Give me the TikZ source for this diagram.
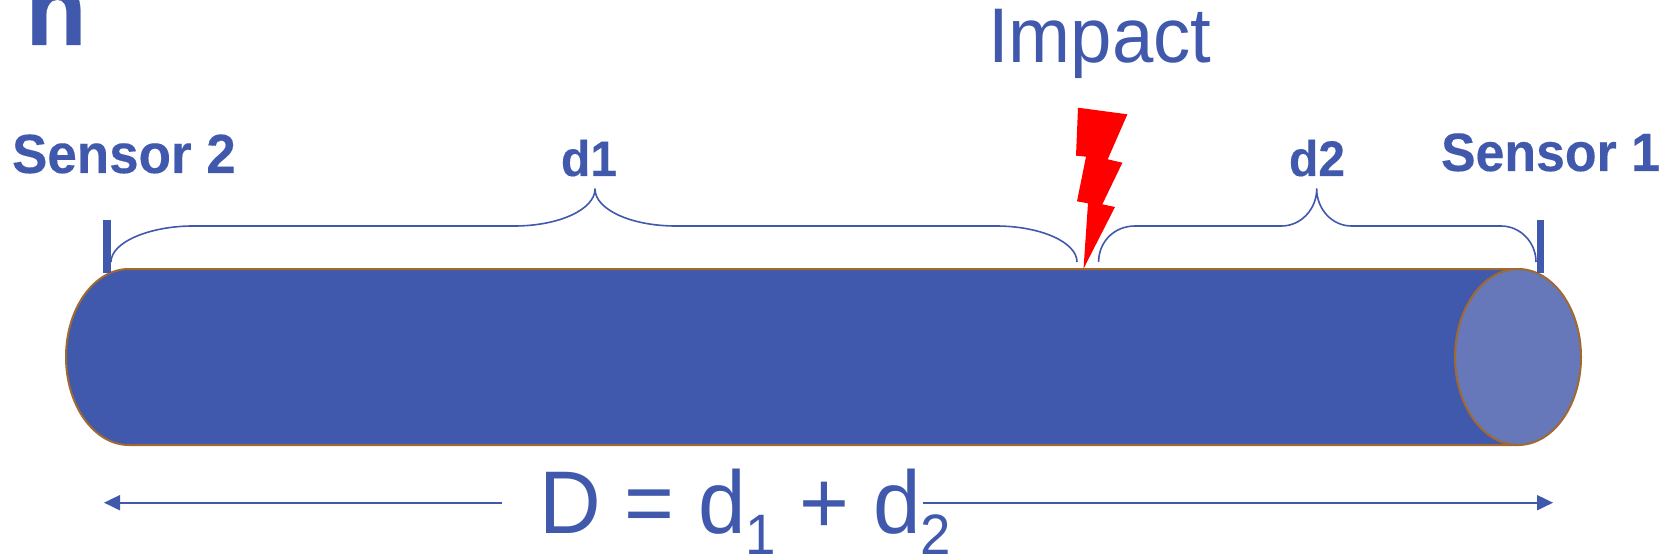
\documentclass[tikz,border=0pt]{standalone}
\usepackage{fontspec}
\setmainfont[FakeStretch=0.96,BoldFeatures={FakeBold=0.25}]{Liberation Sans}
\usetikzlibrary{arrows.meta}
\definecolor{rodblue}{HTML}{4159AC}
\definecolor{rodend}{HTML}{6678BA}
\definecolor{rodedge}{HTML}{A0692F}
\newcommand{\fsz}[1]{\fontsize{#1}{#1}\selectfont}
\newcommand{\fsubs}[1]{\lower21pt\hbox{\fsz{57}#1}}
\tikzset{
  lbl/.style={anchor=base west,inner sep=0pt,outer sep=0pt,text=rodblue},
  boldlbl/.style={lbl,font=\bfseries\fsz{54}},
  smalllbl/.style={lbl,font=\bfseries\fsz{50}},
  rod/.style={fill=rodblue,draw=rodedge,line width=2pt},
  rodface/.style={fill=rodend,draw=rodedge,line width=2pt},
  tick/.style={fill=rodblue,draw=none},
  bracepath/.style={draw=rodblue,line width=1.6pt,line join=round},
  dimarrow/.style={draw=rodblue,line width=2pt,-{Triangle[length=16pt,width=15pt]}},
}
\begin{document}
\begin{tikzpicture}[x=1pt,y=-1pt]
\clip (0,0) rectangle (1667,556);
\useasboundingbox (0,0) rectangle (1667,556);
\fill[white] (0,0) rectangle (1667,556);
% rod
\path[rod] (1518,269) -- (129,269) .. controls (94.2,269) and (66,308.4) .. (66,357)
  .. controls (66,405.6) and (94.2,445) .. (129,445) -- (1518,445) -- cycle;
\path[rodface] (1518,357) ellipse [x radius=63,y radius=88];
% sensor ticks
\fill[tick] (103,220) rectangle (111,273);
\fill[tick] (1537,220) rectangle (1544,273);
% lightning
\fill[red] (1078,107.7) -- (1127.4,114.3) -- (1107.7,159.3) -- (1122.4,162.7) -- (1102.3,204.3)
  -- (1115,207) -- (1083.5,268.7) -- (1088,203.3) -- (1077,201.3) -- (1086,156.7) -- (1076,155.7) -- cycle;
% braces
\path[bracepath] (111,262) .. controls (111,242) and (150,226) .. (193,226) -- (514,226)
  .. controls (560,226) and (595,209) .. (595,189)
  .. controls (595,209) and (630,226) .. (676,226) -- (996,226)
  .. controls (1040,226) and (1077,242) .. (1077,262);
\path[bracepath] (1098.6,262) .. controls (1098.6,242) and (1114,226) .. (1135,226) -- (1281.5,226)
  .. controls (1301,226) and (1316.7,209) .. (1316.7,189)
  .. controls (1316.7,209) and (1332,226) .. (1351.5,226) -- (1501,226)
  .. controls (1520,226) and (1536,242) .. (1536,262);
% labels
\node[lbl,font=\bfseries\fsz{104}] (n) at (25.5,45) {n};
\node[lbl,font=\fsz{77.5}] (impact) at (988,63) {Impact};
\node[lbl,font=\bfseries\fsz{55.2}] (s2) at (12,173) {Sensor 2};
\node[boldlbl] (s1) at (1441,171) {Sensor 1};
\node[smalllbl] (d1) at (561,176) {d1};
\node[smalllbl] (d2) at (1289,176) {d2};
\node[lbl,font=\fsz{89}] (sum) at (539,533) {D = d\fsubs{1} + d\fsubs{2}};
% dimension arrows
\coordinate (la) at (502,502.7);
\coordinate (lt) at (104,502.7);
\coordinate (ra) at (923,502.7);
\coordinate (rt) at (1553,502.7);
\draw[dimarrow] (la) -- (lt);
\draw[dimarrow] (ra) -- (rt);
\end{tikzpicture}
\end{document}
